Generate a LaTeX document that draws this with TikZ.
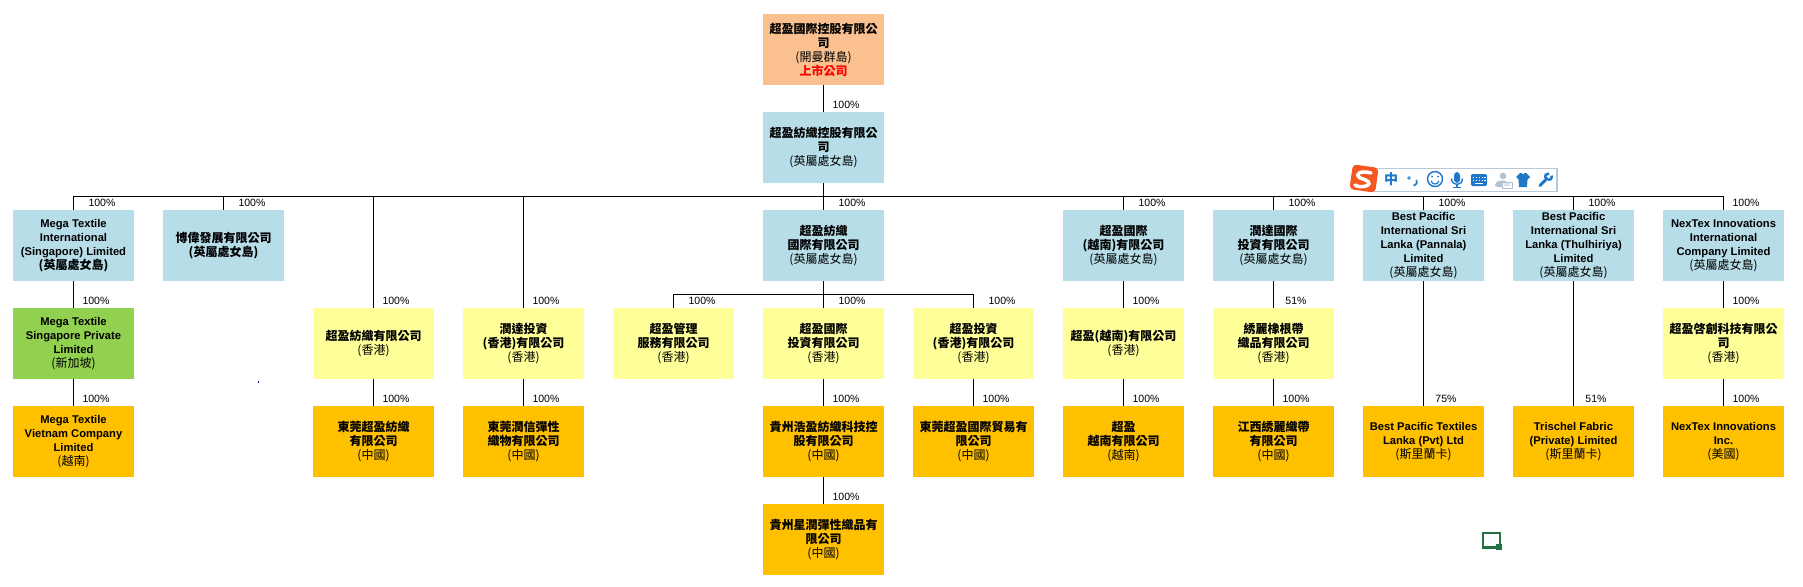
\documentclass[tikz,border=0pt]{standalone}
\usepackage{fontspec}
\setmainfont{Liberation Sans}
\newfontfamily\cjk{Noto Sans CJK TC}
\usetikzlibrary{positioning}

\definecolor{rootfill}{HTML}{FAC090}
\definecolor{bluefill}{HTML}{B7DDE8}
\definecolor{yellowfill}{HTML}{FFFF99}
\definecolor{orangefill}{HTML}{FFC000}
\definecolor{greenfill}{HTML}{92D050}
\definecolor{imeblue}{HTML}{1F78C8}
\definecolor{imegrey}{HTML}{B4C4D4}
\definecolor{imeedge}{HTML}{B8CADA}
\definecolor{imered}{HTML}{F4571F}
\definecolor{cellgreen}{HTML}{217346}

% text helpers: bold / regular chinese, bold latin
\newcommand{\zb}[1]{{\cjk\bfseries #1}}
\newcommand{\zr}[1]{{\cjk #1}}
\newcommand{\en}[1]{{\fontsize{8.4}{10.5}\selectfont\bfseries #1}}

\tikzset{
  box/.style={minimum width=90.75pt, minimum height=53.25pt, inner sep=0pt, align=center,
    font=\fontsize{9}{10.5}\selectfont},
  rootbox/.style={box, fill=rootfill},
  bluebox/.style={box, fill=bluefill},
  yellowbox/.style={box, fill=yellowfill},
  orangebox/.style={box, fill=orangefill},
  greenbox/.style={box, fill=greenfill},
  pct/.style={inner sep=0pt, font=\fontsize{7.9}{9}\selectfont},
  link/.style={draw=black, line width=0.8pt}
}

\begin{document}
\begin{tikzpicture}[x=0.75pt, y=-0.75pt]

        \useasboundingbox (0,0) rectangle (1803,586);

        % top of the chart
        \node[rootbox] (mega_holding) at (823.5,49.5) {\zb{超盈國際控股有限公}\\\zb{司}\\\zr{(開曼群島)}\\\zb{\color{red}上市公司}};
        \node[bluebox] (textile_holding) at (823.5,147.5) {\zb{超盈紡織控股有限公}\\\zb{司}\\\zr{(英屬處女島)}};

        % second level
        \node[bluebox] (mt_intl) at (73.5,245.5) {\en{Mega Textile}\\\en{International}\\\en{(Singapore) Limited}\\\zb{(英屬處女島)}};
        \node[bluebox] (bowei) at (223.5,245.5) {\zb{博偉發展有限公司}\\\zb{(英屬處女島)}};
        \node[bluebox] (textile_intl) at (823.5,245.5) {\zb{超盈紡織}\\\zb{國際有限公司}\\\zr{(英屬處女島)}};
        \node[bluebox] (vn_bvi) at (1123.5,245.5) {\zb{超盈國際}\\\zb{(越南)有限公司}\\\zr{(英屬處女島)}};
        \node[bluebox] (runda_intl) at (1273.5,245.5) {\zb{潤達國際}\\\zb{投資有限公司}\\\zr{(英屬處女島)}};
        \node[bluebox] (bp_pannala) at (1423.5,245.5) {\en{Best Pacific}\\\en{International Sri}\\\en{Lanka (Pannala)}\\\en{Limited}\\\zr{(英屬處女島)}};
        \node[bluebox] (bp_thul) at (1573.5,245.5) {\en{Best Pacific}\\\en{International Sri}\\\en{Lanka (Thulhiriya)}\\\en{Limited}\\\zr{(英屬處女島)}};
        \node[bluebox] (nextex_intl) at (1723.5,245.5) {\en{NexTex Innovations}\\\en{International}\\\en{Company Limited}\\\zr{(英屬處女島)}};

        % third level
        \node[greenbox] (mt_sg) at (73.5,343.5) {\en{Mega Textile}\\\en{Singapore Private}\\\en{Limited}\\\zr{(新加坡)}};
        \node[yellowbox] (textile_hk) at (373.5,343.5) {\zb{超盈紡織有限公司}\\\zr{(香港)}};
        \node[yellowbox] (runda_hk) at (523.5,343.5) {\zb{潤達投資}\\\zb{(香港)有限公司}\\\zr{(香港)}};
        \node[yellowbox] (mgmt_hk) at (673.5,343.5) {\zb{超盈管理}\\\zb{服務有限公司}\\\zr{(香港)}};
        \node[yellowbox] (intl_hk) at (823.5,343.5) {\zb{超盈國際}\\\zb{投資有限公司}\\\zr{(香港)}};
        \node[yellowbox] (invest_hk) at (973.5,343.5) {\zb{超盈投資}\\\zb{(香港)有限公司}\\\zr{(香港)}};
        \node[yellowbox] (vn_hk) at (1123.5,343.5) {\zb{超盈(越南)有限公司}\\\zr{(香港)}};
        \node[yellowbox] (xiuli_hk) at (1273.5,343.5) {\zb{綉麗橡根帶}\\\zb{織品有限公司}\\\zr{(香港)}};
        \node[yellowbox] (qichuang_hk) at (1723.5,343.5) {\zb{超盈啓創科技有限公}\\\zb{司}\\\zr{(香港)}};

        % fourth level
        \node[orangebox] (mt_vn) at (73.5,441.5) {\en{Mega Textile}\\\en{Vietnam Company}\\\en{Limited}\\\zr{(越南)}};
        \node[orangebox] (dg_textile) at (373.5,441.5) {\zb{東莞超盈紡織}\\\zb{有限公司}\\\zr{(中國)}};
        \node[orangebox] (dg_runxin) at (523.5,441.5) {\zb{東莞潤信彈性}\\\zb{織物有限公司}\\\zr{(中國)}};
        \node[orangebox] (gz_haoying) at (823.5,441.5) {\zb{貴州浩盈紡織科技控}\\\zb{股有限公司}\\\zr{(中國)}};
        \node[orangebox] (dg_trade) at (973.5,441.5) {\zb{東莞超盈國際貿易有}\\\zb{限公司}\\\zr{(中國)}};
        \node[orangebox] (vn_co) at (1123.5,441.5) {\zb{超盈}\\\zb{越南有限公司}\\\zr{(越南)}};
        \node[orangebox] (jx_xiuli) at (1273.5,441.5) {\zb{江西綉麗織帶}\\\zb{有限公司}\\\zr{(中國)}};
        \node[orangebox] (bp_lanka) at (1423.5,441.5) {\en{Best Pacific Textiles}\\\en{Lanka (Pvt) Ltd}\\\zr{(斯里蘭卡)}};
        \node[orangebox] (trischel) at (1573.5,441.5) {\en{Trischel Fabric}\\\en{(Private) Limited}\\\zr{(斯里蘭卡)}};
        \node[orangebox] (nextex_inc) at (1723.5,441.5) {\en{NexTex Innovations}\\\en{Inc.}\\\zr{(美國)}};

        % fifth level
        \node[orangebox] (gz_xingrun) at (823.5,539.5) {\zb{貴州星潤彈性織品有}\\\zb{限公司}\\\zr{(中國)}};

        % bus lines
        \coordinate (main_bus) at (823.5,196.5);
        \coordinate (sub_bus) at (823.5,294.5);

        % connectors down from the holding companies
        \draw[link] (mega_holding) -- (textile_holding);
        \draw[link] (textile_holding) -- (textile_intl);
        \draw[link] (mt_intl.north) |- (main_bus);
        \draw[link] (bowei.north) |- (main_bus);
        \draw[link] (textile_hk.north) |- (main_bus);
        \draw[link] (runda_hk.north) |- (main_bus);
        \draw[link] (vn_bvi.north) |- (main_bus);
        \draw[link] (runda_intl.north) |- (main_bus);
        \draw[link] (bp_pannala.north) |- (main_bus);
        \draw[link] (bp_thul.north) |- (main_bus);
        \draw[link] (nextex_intl.north) |- (main_bus);

        % connectors inside the columns
        \draw[link] (mt_intl) -- (mt_sg);
        \draw[link] (mt_sg) -- (mt_vn);
        \draw[link] (textile_hk) -- (dg_textile);
        \draw[link] (runda_hk) -- (dg_runxin);
        \draw[link] (textile_intl) -- (intl_hk);
        \draw[link] (mgmt_hk.north) |- (sub_bus);
        \draw[link] (invest_hk.north) |- (sub_bus);
        \draw[link] (intl_hk) -- (gz_haoying);
        \draw[link] (gz_haoying) -- (gz_xingrun);
        \draw[link] (invest_hk) -- (dg_trade);
        \draw[link] (vn_bvi) -- (vn_hk);
        \draw[link] (vn_hk) -- (vn_co);
        \draw[link] (runda_intl) -- (xiuli_hk);
        \draw[link] (xiuli_hk) -- (jx_xiuli);
        \draw[link] (bp_pannala) -- (bp_lanka);
        \draw[link] (bp_thul) -- (trischel);
        \draw[link] (nextex_intl) -- (qichuang_hk);
        \draw[link] (qichuang_hk) -- (nextex_inc);

        % percentages
        \node[pct] (p_textile_holding) at (846,105) {100\%};
        \node[pct] (p_mt_intl) at (102,203) {100\%};
        \node[pct] (p_bowei) at (252,203) {100\%};
        \node[pct] (p_textile_intl) at (852,203) {100\%};
        \node[pct] (p_vn_bvi) at (1152,203) {100\%};
        \node[pct] (p_runda_intl) at (1302,203) {100\%};
        \node[pct] (p_bp_pannala) at (1452,203) {100\%};
        \node[pct] (p_bp_thul) at (1602,203) {100\%};
        \node[pct] (p_nextex_intl) at (1746,203) {100\%};
        \node[pct] (p_mt_sg) at (96,301) {100\%};
        \node[pct] (p_textile_hk) at (396,301) {100\%};
        \node[pct] (p_runda_hk) at (546,301) {100\%};
        \node[pct] (p_mgmt_hk) at (702,301) {100\%};
        \node[pct] (p_intl_hk) at (852,301) {100\%};
        \node[pct] (p_invest_hk) at (1002,301) {100\%};
        \node[pct] (p_vn_hk) at (1146,301) {100\%};
        \node[pct] (p_xiuli_hk) at (1296,301) {51\%};
        \node[pct] (p_qichuang_hk) at (1746,301) {100\%};
        \node[pct] (p_mt_vn) at (96,399) {100\%};
        \node[pct] (p_dg_textile) at (396,399) {100\%};
        \node[pct] (p_dg_runxin) at (546,399) {100\%};
        \node[pct] (p_gz_haoying) at (846,399) {100\%};
        \node[pct] (p_dg_trade) at (996,399) {100\%};
        \node[pct] (p_vn_co) at (1146,399) {100\%};
        \node[pct] (p_jx_xiuli) at (1296,399) {100\%};
        \node[pct] (p_bp_lanka) at (1446,399) {75\%};
        \node[pct] (p_trischel) at (1596,399) {51\%};
        \node[pct] (p_nextex_inc) at (1746,399) {100\%};
        \node[pct] (p_gz_xingrun) at (846,497) {100\%};

        % input method toolbar lying over the chart
        \draw[imeedge, fill=white, line width=0.8pt] (1373,168.5) rectangle (1557,191.5);
        \fill[imered, rounded corners=3pt, rotate around={-8:(1364,178.5)}] (1351,166) rectangle (1377,191);
        \draw[white, line width=2.6pt, line cap=round] (1371,173) .. controls (1361,170) and (1354,174) .. (1360,178) .. controls (1367,180) and (1373,183) .. (1366,186) .. controls (1362,187) and (1358,187) .. (1355,185);
        \node[inner sep=0pt, text=imeblue, font=\fontsize{10.5}{10.5}\selectfont] (ime_zh) at (1391,179.5) {\zb{中}};
        \fill[imeblue] (1409,178) circle (1.8);
        \fill[white] (1409,178) circle (0.7);
        \draw[imeblue, line width=1.3pt, line cap=round] (1416.5,180.5) .. controls (1417.5,182) and (1417,184) .. (1414,185.5);
        \draw[imeblue, line width=1.1pt] (1435,179) circle (7.5);
        \fill[imeblue] (1432,176.5) circle (1) (1438,176.5) circle (1);
        \draw[imeblue, line width=0.9pt] (1431,181) .. controls (1433,185) and (1437,185) .. (1439,181);
        \fill[imeblue, rounded corners=2.5pt] (1454,172) rectangle (1460,183);
        \draw[imeblue, line width=1pt] (1451.5,178.5) .. controls (1451.5,186.5) and (1462.5,186.5) .. (1462.5,178.5);
        \draw[imeblue, line width=1.1pt] (1457,184.5) -- (1457,187.5) (1453,187.5) -- (1461,187.5);
        \fill[imeblue, rounded corners=1pt] (1471,174) rectangle (1487,186);
        \foreach \kx in {1473.5,1476.5,1479.5,1482.5,1485} {
          \fill[white] (\kx-0.7,176.5) rectangle (\kx+0.7,177.8);
          \fill[white] (\kx-0.7,179.5) rectangle (\kx+0.7,180.8);
        }
        \fill[white] (1475,182.5) rectangle (1483,183.8);
        \fill[imegrey] (1503,176) circle (3.3);
        \fill[imegrey, rounded corners=2pt] (1495,187) -- (1495,183) -- (1499,180.5) -- (1507,180.5) -- (1507,187) -- cycle;
        \draw[imegrey, fill=white, line width=0.7pt] (1502.5,182) rectangle (1512,188);
        \node[inner sep=0pt, text=imegrey, font=\fontsize{4}{4}\selectfont\bfseries] (ime_3d) at (1507.2,185) {3D};
        \fill[imeblue] (1520,173) -- (1521.5,173) -- (1523,174.5) -- (1524.5,173) -- (1526,173) -- (1530,177) -- (1527.5,179.5) -- (1527,187) -- (1519,187) -- (1518.5,179.5) -- (1516,177) -- cycle;
        \draw[imeblue, line width=2.3pt, line cap=round] (1540,185.5) -- (1547,178.5);
        \draw[imeblue, line width=1.9pt] (1545.5,178) .. controls (1544.5,175) and (1546.5,173.5) .. (1549,173.5) (1548,180) .. controls (1550.5,180.5) and (1552,178.5) .. (1551.5,175.5);

        % stray marks of the screenshot
        \draw[cellgreen, line width=1.9pt] (1483,533) rectangle (1500,547.5);
        \fill[cellgreen] (1496,544) rectangle (1501.5,549.5);
        \fill[blue!40!black] (257.5,381) rectangle (259,382.5);

      \end{tikzpicture}
\end{document}
